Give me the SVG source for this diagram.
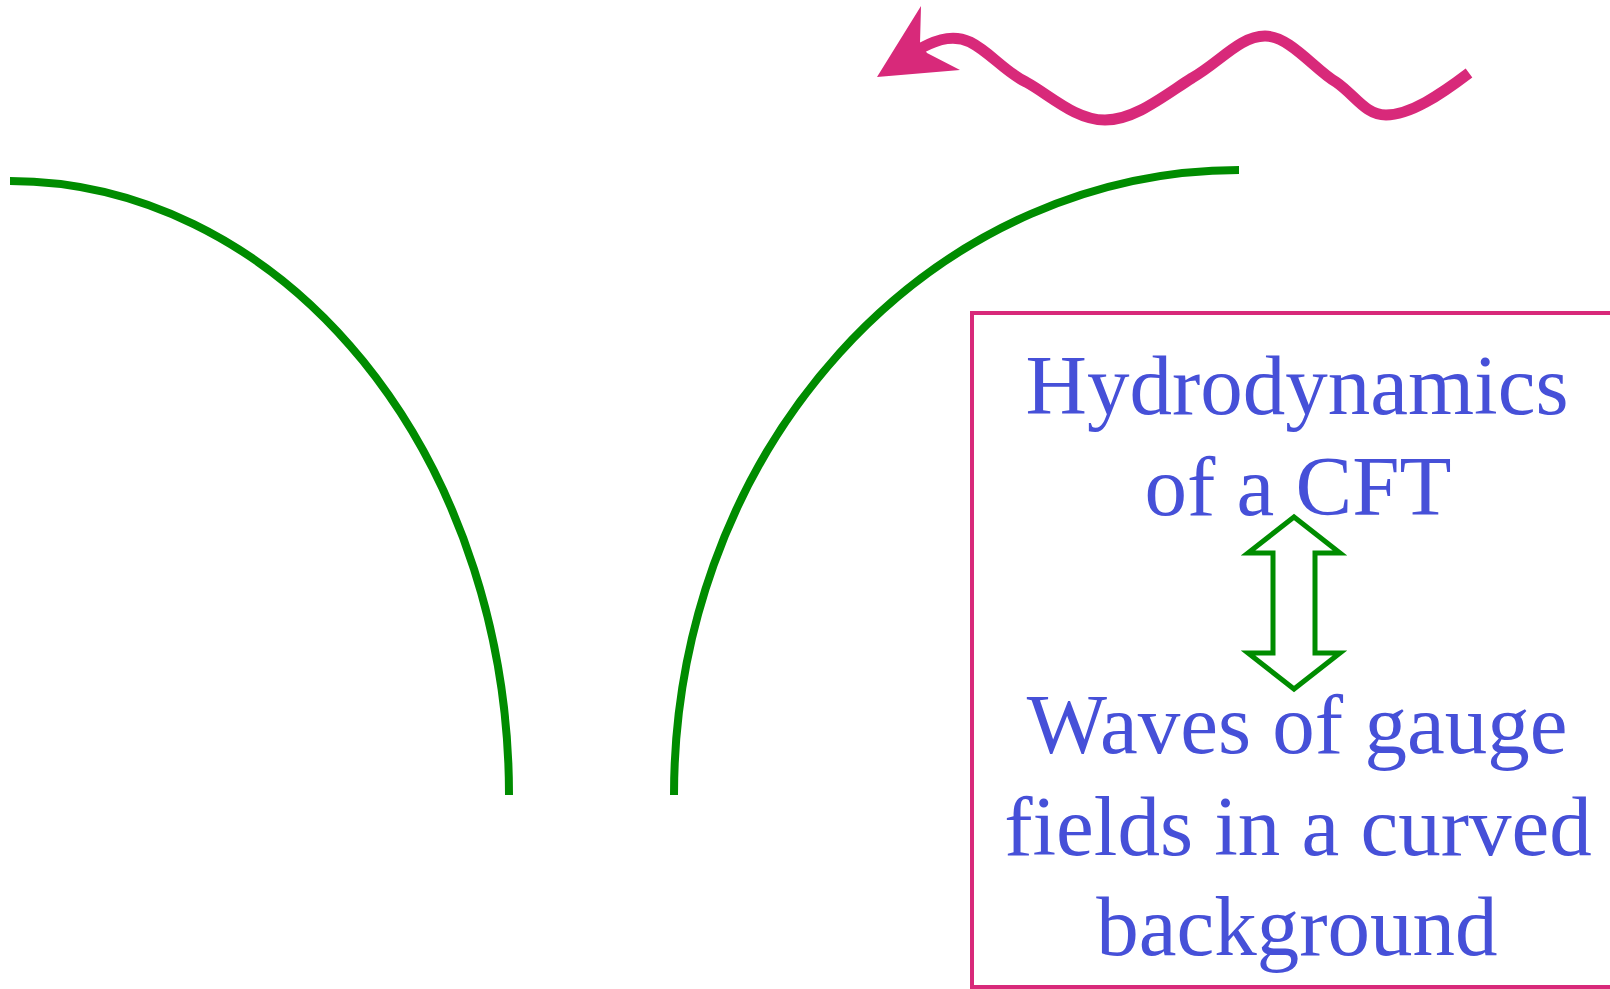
<svg xmlns="http://www.w3.org/2000/svg" width="1610" height="989" viewBox="0 0 1610 989">
<style>
.arc{fill:none;stroke:#008c00;stroke-width:8}
.wave{fill:none;stroke:#d8297a;stroke-width:11;stroke-linejoin:round}
.lbl{font-family:"Liberation Serif","Times New Roman",serif;font-size:85px;fill:#4650d8;text-anchor:middle}
</style>
<rect width="1610" height="989" fill="#ffffff"/>
<g id="connectors">
<path id="left-arc" class="arc" d="M 10,181 A 499,614 0 0 1 509,795"/>
<path id="right-arc" class="arc" d="M 1239,170 A 565,625 0 0 0 674,795"/>
<g id="wavy-arrow">
<path class="wave" d="M 921,48 C 940,38 955,35 970,42 C 990,52 1005,72 1026,82 C 1050,95 1075,120 1105,120 C 1135,120 1165,95 1192,78 C 1220,62 1240,36 1265,36 C 1290,36 1315,70 1336,82 C 1355,95 1365,115 1386,115 C 1410,115 1440,95 1469,73"/>
<polygon fill="#d8297a" points="877,77 921,6 920,43 927,53 960,70"/>
</g>
</g>
<g id="box">
<rect x="972" y="313" width="650" height="674" fill="none" stroke="#d8297a" stroke-width="4"/>
<text class="lbl" x="1297" y="414">Hydrodynamics</text>
<text class="lbl" x="1298" y="515">of a CFT</text>
<polygon id="double-arrow" fill="#ffffff" stroke="#008c00" stroke-width="5" points="1294,517 1248,553 1273,553 1273,653 1248,653 1294,689 1340,653 1315,653 1315,553 1340,553"/>
<text class="lbl" x="1297" y="753">Waves of gauge</text>
<text class="lbl" x="1298" y="855">fields in a curved</text>
<text class="lbl" x="1297" y="955">background</text>
</g>
</svg>
